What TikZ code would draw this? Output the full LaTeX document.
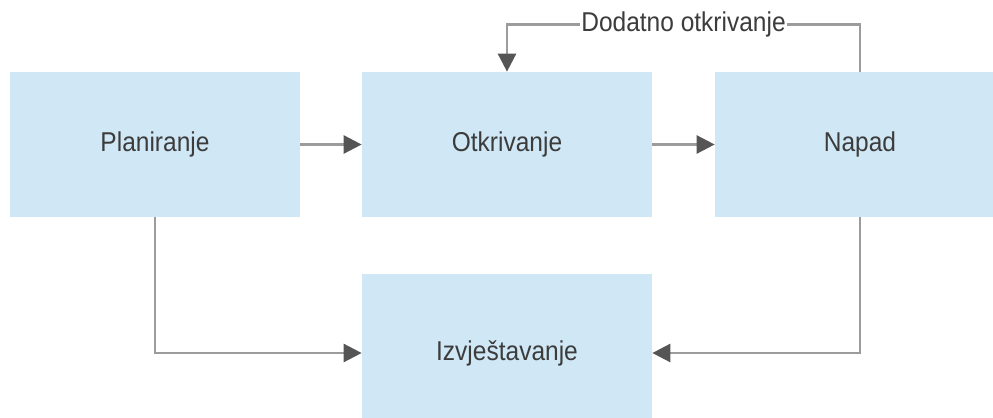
\documentclass[tikz,border=0pt]{standalone}
\usepackage{fontspec}
\setmainfont{Liberation Sans}[FakeStretch=0.9]
\usepackage{tikz}
\usetikzlibrary{arrows.meta}

\definecolor{boxblue}{HTML}{D0E7F5}
\definecolor{linegray}{HTML}{9C9C9C}
\definecolor{tipgray}{HTML}{555555}
\definecolor{textgray}{HTML}{3C3C3C}

\begin{document}
\begin{tikzpicture}
                \useasboundingbox (0,0) rectangle (19.86,-8.34);
                \begin{scope}[every node/.style={fill=boxblue, text=textgray, minimum width=5.8cm, minimum height=2.9cm, inner sep=0, font=\fontsize{15.5}{18}\selectfont}]
                        \node (plan) at (3.1,-2.89) {Planiranje};
                        \node (otk) at (10.14,-2.89) {Otkrivanje};
                        \node (napad) at (17.2,-2.89) {Napad};
                        \node [minimum height=3.16cm] (izv) at (10.14,-7.06) {Izvještavanje};
                \end{scope}
                \begin{scope}[every node/.style={fill=white, text=textgray, inner sep=1pt, font=\fontsize{15.5}{18}\selectfont}, every path/.style={draw=linegray, line width=1.5pt, -{Triangle[length=0.36cm, width=0.36cm, color=tipgray]}}]
                        \path (plan) edge (otk);
                        \path (otk) edge (napad);
                        \draw (plan.south) |- (izv.west);
                        \draw (napad.south) |- (izv.east);
                        \draw (napad.north) -- ++(0,0.94) -| node [pos=0.25] {Dodatno otkrivanje} (otk.north);
                \end{scope}
        \end{tikzpicture}
\end{document}
